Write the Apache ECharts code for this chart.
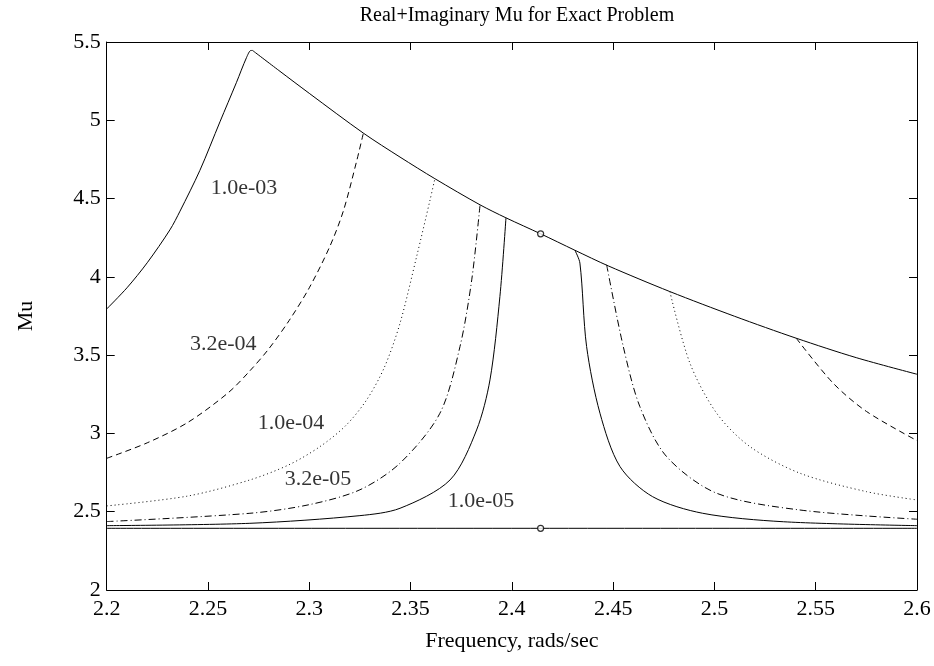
<!DOCTYPE html>
<html>
<head>
<meta charset="utf-8">
<script src="https://cdn.jsdelivr.net/npm/echarts@6/dist/echarts.min.js"></script>
<style>
  html, body { margin: 0; padding: 0; background: #fff; }
  #main { width: 934px; height: 666px; }
</style>
</head>
<body>
<div id="main"></div>
<script>
var chartDom = document.getElementById('main');
var myChart = echarts.init(chartDom);

// upper envelope (exact problem)
var envelope = [[2.272,5.446],[2.285,5.318],[2.30,5.172],[2.3267,4.918],[2.3448,4.765],[2.362,4.627],[2.3843,4.46],[2.3971,4.377],[2.4142,4.275],[2.4311,4.17],[2.4476,4.07],[2.478,3.906],[2.51,3.748],[2.5404,3.608],[2.57,3.484],[2.6,3.378]];
// curves for each perturbation size
var mu1e3 = [[2.2,3.795],[2.21,3.93],[2.22,4.09],[2.2312,4.30],[2.2362,4.42],[2.246,4.68],[2.2559,4.99],[2.264,5.24],[2.269,5.40],[2.2712,5.446],[2.272,5.446]];
var mu32e4L = [[2.2,2.841],[2.22,2.94],[2.24,3.07],[2.26,3.26],[2.2707,3.40],[2.28,3.54],[2.29,3.72],[2.30,3.93],[2.31,4.19],[2.3168,4.42],[2.3234,4.74],[2.3267,4.918]];
var mu32e4R = [[2.5404,3.608],[2.5586,3.321],[2.5751,3.14],[2.6,2.954]];
var mu1e4L = [[2.2,2.537],[2.24,2.60],[2.2707,2.703],[2.29,2.80],[2.3053,2.916],[2.318,3.05],[2.3283,3.214],[2.337,3.42],[2.3448,3.704],[2.353,4.13],[2.3596,4.49],[2.362,4.627]];
var mu1e4R = [[2.478,3.906],[2.4879,3.449],[2.5011,3.129],[2.5175,2.916],[2.5422,2.746],[2.5751,2.628],[2.6,2.575]];
var mu32e5L = [[2.2,2.437],[2.2707,2.49],[2.30,2.545],[2.325,2.64],[2.3448,2.81],[2.3645,3.129],[2.3744,3.555],[2.3802,3.981],[2.3843,4.46]];
var mu32e5R = [[2.4468,4.077],[2.455,3.555],[2.4632,3.171],[2.4764,2.852],[2.5011,2.618],[2.5422,2.511],[2.6,2.452]];
var mu1e5L = [[2.2,2.411],[2.2707,2.426],[2.325,2.475],[2.3448,2.522],[2.3695,2.703],[2.3826,3.022],[2.3892,3.342],[2.3941,3.874],[2.3971,4.377]];
var mu1e5R = [[2.4311,4.17],[2.4336,4.088],[2.4369,3.555],[2.4435,3.129],[2.4534,2.788],[2.4695,2.596],[2.4942,2.49],[2.534,2.436],[2.6,2.411]];
var realMu = [[2.2,2.394],[2.6,2.394]];
var circles = [[2.4142,4.275],[2.4142,2.394]];

var labelPos = [[2.2678,4.569],[2.2575,3.572],[2.291,3.067],[2.3043,2.709],[2.3848,2.569]];
var labelText = ['1.0e-03','3.2e-04','1.0e-04','3.2e-05','1.0e-05'];

var serif = 'Liberation Serif';
var solid = 'solid';
var dashed = [6, 4];
var dotted = [1, 3];
var dashdot = [7, 3, 1, 3];

function curve(data, type) {
  return {
    type: 'line',
    data: data,
    showSymbol: false,
    smooth: 0.3,
    silent: true,
    lineStyle: { color: '#000', width: 1, type: type },
    z: 3
  };
}

var labelData = labelPos.map(function (p, i) {
  return { value: p, label: { formatter: labelText[i] } };
});

var option = {
  animation: false,
  title: {
    text: 'Real+Imaginary Mu for Exact Problem',
    left: 512,
    top: 1,
    textAlign: 'center',
    textStyle: { fontFamily: serif, fontSize: 20, fontWeight: 'normal', color: '#000' }
  },
  grid: { left: 106.7, right: 17, top: 42, bottom: 76, containLabel: false },
  xAxis: [{
    type: 'value',
    min: 2.2, max: 2.6, interval: 0.05,
    name: 'Frequency, rads/sec',
    nameLocation: 'middle',
    nameGap: 40,
    nameTextStyle: { fontFamily: serif, fontSize: 22, color: '#000' },
    axisLine: { lineStyle: { color: '#000', width: 1 } },
    axisTick: { inside: true, length: 8, lineStyle: { color: '#000' } },
    axisLabel: { fontFamily: serif, fontSize: 22, color: '#000', margin: 8 },
    splitLine: { show: false }
  }, {
    type: 'value', position: 'top',
    min: 2.2, max: 2.6, interval: 0.05,
    axisLine: { lineStyle: { color: '#000', width: 1 } },
    axisTick: { inside: true, length: 8, lineStyle: { color: '#000' } },
    axisLabel: { show: false },
    splitLine: { show: false }
  }],
  yAxis: [{
    type: 'value',
    min: 2, max: 5.5, interval: 0.5,
    name: 'Mu',
    nameLocation: 'middle',
    nameGap: 69,
    nameTextStyle: { fontFamily: serif, fontSize: 22, color: '#000' },
    axisLine: { show: true, lineStyle: { color: '#000', width: 1 } },
    axisTick: { show: true, inside: true, length: 8, lineStyle: { color: '#000' } },
    axisLabel: { fontFamily: serif, fontSize: 22, color: '#000', margin: 6 },
    splitLine: { show: false }
  }, {
    type: 'value', position: 'right',
    min: 2, max: 5.5, interval: 0.5,
    axisLine: { show: true, lineStyle: { color: '#000', width: 1 } },
    axisTick: { show: true, inside: true, length: 8, lineStyle: { color: '#000' } },
    axisLabel: { show: false },
    splitLine: { show: false }
  }],
  series: [
    curve(envelope, solid),
    curve(mu1e3, solid),
    curve(mu32e4L, dashed),
    curve(mu32e4R, dashed),
    curve(mu1e4L, dotted),
    curve(mu1e4R, dotted),
    curve(mu32e5L, dashdot),
    curve(mu32e5R, dashdot),
    curve(mu1e5L, solid),
    curve(mu1e5R, solid),
    curve(realMu, solid),
    {
      type: 'scatter',
      data: circles,
      symbol: 'circle',
      symbolSize: 6,
      silent: true,
      itemStyle: { color: '#fff', borderColor: '#000', borderWidth: 1.2 },
      z: 4
    },
    {
      type: 'scatter',
      data: labelData,
      symbolSize: 0,
      silent: true,
      label: {
        show: true, position: 'inside',
        fontFamily: serif, fontSize: 22, color: '#000'
      },
      z: 5
    }
  ]
};

myChart.setOption(option);
</script>
</body>
</html>
